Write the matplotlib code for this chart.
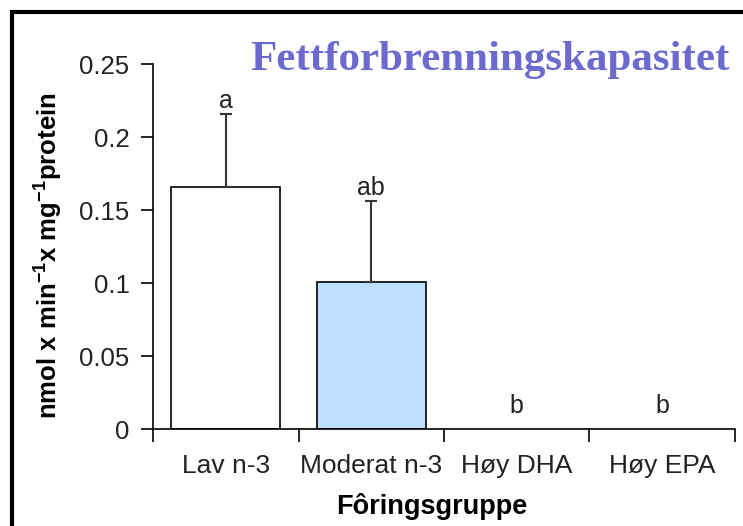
import matplotlib.pyplot as plt
from matplotlib.patches import Rectangle

groups = ["Lav n-3", "Moderat n-3", "Høy DHA", "Høy EPA"]
values = [0.166, 0.101, 0.0, 0.0]
errors = [0.050, 0.055, 0.0, 0.0]
letters = ["a", "ab", "b", "b"]
colors = ["white", "#bfdfff", "white", "white"]
yticks = [0, 0.05, 0.1, 0.15, 0.2, 0.25]
ytick_labels = ["0", "0.05", "0.1", "0.15", "0.2", "0.25"]

plt.rcParams['font.family'] = ['Liberation Sans', 'DejaVu Sans']
plt.rcParams['mathtext.fontset'] = 'custom'
plt.rcParams['mathtext.rm'] = 'Liberation Sans:bold'
plt.rcParams['mathtext.bf'] = 'Liberation Sans:bold'

fig = plt.figure(figsize=(7.43, 5.26), dpi=100)
ax = fig.add_axes([0.206, 0.1844, 0.783, 0.6939])

x = range(len(groups))
lw = [1.2 if v > 0 else 0 for v in values]
ax.bar(x, values, width=0.75, color=colors, edgecolor="black", linewidth=lw, zorder=2)
for i, (v, e) in enumerate(zip(values, errors)):
    if e > 0:
        ax.errorbar(i, v, yerr=[[0], [e]], fmt="none", ecolor="#333333",
                    elinewidth=1.5, capsize=4, capthick=1.5, zorder=3)
        ty = v + e + 0.004
    else:
        ty = 0.011
    ax.text(i, ty, letters[i], ha="center", va="baseline", fontsize=18, color="#222222")

ax.set_xlim(-0.5, 3.5)
ax.set_ylim(0, 0.25)
ax.set_yticks(yticks)
ax.set_yticklabels(ytick_labels, fontsize=18.5, color="#222222")
ax.set_xticks([i + 0.5 for i in range(-1, 4)])
ax.set_xticklabels([])
ax.set_xticks(list(x), minor=True)
ax.set_xticklabels(groups, minor=True, fontsize=19, color="#222222")
ax.tick_params(axis="x", which="minor", length=0, pad=18)
ax.tick_params(axis="x", which="major", length=9, width=1.2, direction="out")
ax.tick_params(axis="y", length=9, width=1.2, direction="out", pad=8)
for s in ["top", "right"]:
    ax.spines[s].set_visible(False)
for s in ["left", "bottom"]:
    ax.spines[s].set_linewidth(1.2)

ax.set_ylabel(r"nmol x min$^{-1}$x mg$^{-1}$protein", fontsize=18.5, fontweight="bold")
ax.yaxis.set_label_coords(-0.153, 0.474)
ax.set_xlabel("Fôringsgruppe", fontsize=19.5, fontweight="bold")
ax.xaxis.set_label_coords(0.479, -0.175)

fig.text(0.982, 0.867, "Fettforbrenningskapasitet", ha="right", va="baseline",
         fontsize=31, fontweight="bold", color="#6b6bcf", family="Liberation Serif")

fig.patches.append(Rectangle((11.5 / 743, -0.1), 1.2, 1.1 - 11.5 / 526,
                             transform=fig.transFigure, fill=False,
                             edgecolor="black", linewidth=3))

fig.savefig("out.png", dpi=100)
